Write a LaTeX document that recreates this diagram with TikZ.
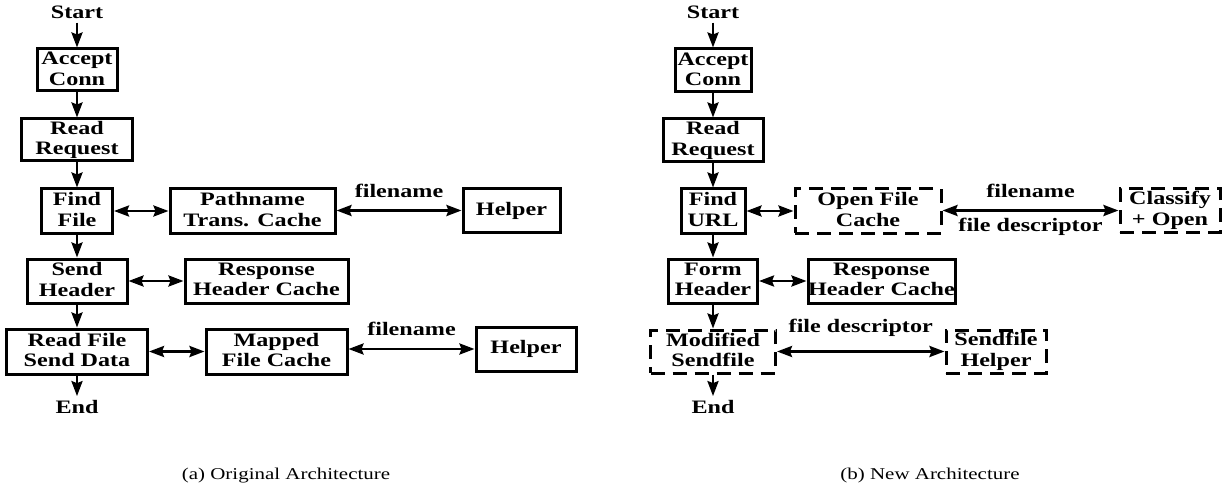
\documentclass[tikz,border=0pt]{standalone}
\usepackage{fontspec}
\setmainfont{Liberation Serif}[FakeStretch=1.27]
\usetikzlibrary{positioning,arrows.meta}

\begin{document}
\begin{tikzpicture}[
    x=1pt, y=1pt,
    font=\fontsize{19}{20.5}\selectfont\bfseries,
    box/.style={draw, line width=3pt, align=center, inner sep=0pt,
                minimum height=44pt, execute at end node={\rule[-3pt]{0pt}{3pt}}},
    dbox/.style={box, dash pattern=on 14pt off 8pt},
    term/.style={inner sep=4pt},
    op/.style={->, >={Stealth[length=15pt, width=11pt, inset=2pt]}, line width=2.6pt},
    dop/.style={op, <->},
    lbl/.style={midway, above=10pt, inner sep=2pt},
    lblb/.style={midway, below=4pt, inner sep=2pt},
    captext/.style={font=\normalfont\fontsize{16.5}{19}\selectfont},
  ]
  \useasboundingbox (0,0) rectangle (1225,-489);

  % --- LEFT: original architecture ---
  \node[term] (startA) at (77,-12) {Start};
  \node[box, minimum width=80pt, minimum height=42pt] (acceptA) at (77,-70) {Accept\\Conn};
  \node[box, minimum width=111pt, minimum height=42pt] (readA) at (77,-140) {Read\\Request};
  \node[box, minimum width=71pt] (findA) at (77,-211) {Find\\File};
  \node[box, minimum width=100pt] (sendA) at (77,-281) {Send\\Header};
  \node[box, minimum width=141pt, minimum height=45pt] (dataA) at (77,-351.5) {Read File\\Send Data};
  \node[term] (endA) at (77,-407) {End};

  \node[box, minimum width=165pt] (pathA) at (252.5,-211) {Pathname\\Trans. Cache};
  \node[box, minimum width=97pt, minimum height=43pt] (helpA) at (511.5,-210.5) {Helper};
  \node[box, minimum width=163pt] (respA) at (266.5,-281) {Response\\Header Cache};
  \node[box, minimum width=141pt, minimum height=45pt] (mapA) at (276.5,-351.5) {Mapped\\File Cache};
  \node[box, minimum width=100pt] (helpB) at (526,-349) {Helper};

  \draw[op] (startA) -- (acceptA);
  \draw[op] (acceptA) -- (readA);
  \draw[op] (readA) -- (findA);
  \draw[op] (findA) -- (sendA);
  \draw[op] (sendA) -- (dataA);
  \draw[op] (dataA) -- (endA);

  \draw[dop] (findA) -- (pathA);
  \draw[dop] (pathA.east |- helpA.west) -- (helpA.west) node[lbl] {filename};
  \draw[dop] (sendA) -- (respA);
  \draw[dop] (dataA.east) -- (mapA.west);
  \draw[dop] (mapA.east |- helpB.west) -- (helpB.west) node[lbl] {filename};

  \node[captext] (capA) at (286,-476) {(a) Original Architecture};

  % --- RIGHT: new architecture ---
  \node[term] (startB) at (713,-12) {Start};
  \node[box, minimum width=76pt, minimum height=43pt] (acceptB) at (713,-70.5) {Accept\\Conn};
  \node[box, minimum width=100pt, minimum height=43pt] (readB) at (713,-140.5) {Read\\Request};
  \node[box, minimum width=64pt] (findB) at (713,-211) {Find\\URL};
  \node[box, minimum width=89pt] (formB) at (713,-281) {Form\\Header};
  \node[dbox, minimum width=125pt, minimum height=43pt] (sendfB) at (713,-351.5) {Modified\\Sendfile};
  \node[term] (endB) at (713,-407) {End};

  \node[dbox, minimum width=146pt] (openB) at (868,-211) {Open File\\Cache};
  \node[dbox, minimum width=100pt, minimum height=43pt] (classB) at (1170,-210.5) {Classify\\+ Open};
  \node[box, minimum width=147pt] (respB) at (881.5,-281) {Response\\Header Cache};
  \node[dbox, minimum width=100pt, minimum height=43pt] (helpC) at (996,-351.5) {Sendfile\\Helper};

  \draw[op] (startB) -- (acceptB);
  \draw[op] (acceptB) -- (readB);
  \draw[op] (readB) -- (findB);
  \draw[op] (findB) -- (formB);
  \draw[op] (formB) -- (sendfB);
  \draw[op] (sendfB) -- (endB);

  \draw[dop] (findB) -- (openB);
  \draw[dop] (openB.east |- classB.west) -- (classB.west)
    node[lbl] {filename} node[lblb] {file descriptor};
  \draw[dop] (formB) -- (respB);
  \draw[dop] (sendfB.east) -- (helpC.west) node[lbl, above=12pt] {file descriptor};

  \node[captext] (capB) at (930,-476) {(b) New Architecture};
\end{tikzpicture}
\end{document}
